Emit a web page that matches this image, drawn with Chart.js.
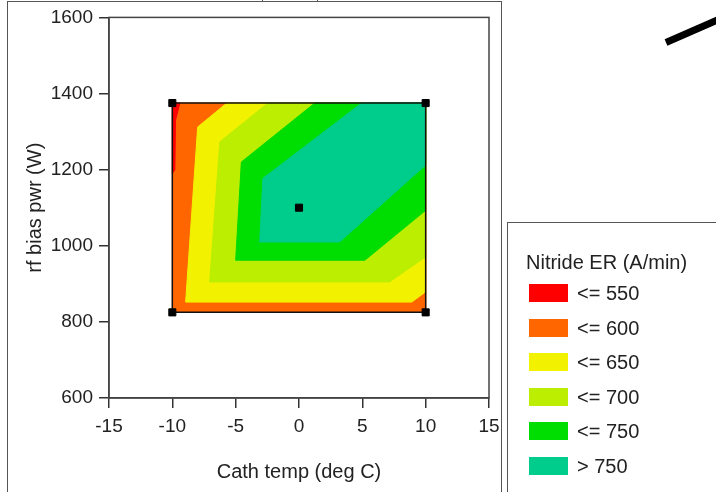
<!DOCTYPE html>
<html>
<head>
<meta charset="utf-8">
<title>Nitride ER contour</title>
<script src="https://cdn.jsdelivr.net/npm/chart.js@4.4.1/dist/chart.umd.min.js"></script>
<style>
  body { margin: 0; background: #fff; font-family: "Liberation Sans", Arial, sans-serif; color: #222; }
  #wrap { position: relative; width: 716px; height: 492px; overflow: hidden; background: #fff; }
  #erChart { position: absolute; left: 0; top: 0; }
  .frame { position: absolute; border: 1.5px solid #555; box-sizing: border-box; }
  .mark { position: absolute; top: 0; width: 1px; height: 2px; background: #555; }
  #slash { position: absolute; left: 666px; top: 39px; width: 60px; height: 7px; background: #000;
           transform-origin: 0 50%; transform: rotate(-23.6deg); }
  #legend { position: absolute; left: 507px; top: 222px; width: 230px; height: 300px;
            border: 1.5px solid #555; box-sizing: border-box; }
  #legend .title { position: absolute; left: 18px; top: 27px; font-size: 20px; line-height: 24px; white-space: nowrap; }
  #legend .rows { position: absolute; left: 21px; top: 61px; }
  .legend-row { height: 34.5px; display: flex; align-items: flex-start; }
  .swatch { width: 39px; height: 18px; margin-right: 9px; }
  .legend-row span.txt { font-size: 20px; line-height: 19px; }
</style>
</head>
<body>
<div id="wrap">
  <div class="frame" style="left:7px; top:1px; width:495px; height:520px;"></div>
  <div class="mark" style="left:262px;"></div>
  <div class="mark" style="left:317px;"></div>
  <canvas id="erChart" width="716" height="492"></canvas>
  <div id="slash"></div>
  <div id="legend">
    <div class="title">Nitride ER (A/min)</div>
    <div class="rows" id="legendRows"></div>
  </div>
</div>

<script>
// Axis ticks
const tempTicks = [-15, -10, -5, 0, 5, 10, 15];
const powerTicks = [600, 800, 1000, 1200, 1400, 1600];

// Design points (4 corners + center)
const designTemp = [-10, 10, -10, 10, 0];
const designPower = [1375, 1375, 825, 825, 1100];

// Legend levels
const levelLabels = ["<= 550", "<= 600", "<= 650", "<= 700", "<= 750", "> 750"];
const levelColors = ["#FF0000", "#FF6600", "#F2F200", "#BBEE00", "#00DD00", "#00CC8C"];

// Contour regions, [temp, power] corners
const region550 = [[-10, 1375], [-9.4, 1375], [-9.75, 1330], [-9.8, 1200], [-10, 1190]];
const region600 = [[-10, 1375], [10, 1375], [10, 825], [-10, 825]];
const region650 = [[-5.7, 1375], [-8, 1312], [-8.95, 852], [8.9, 852], [10, 879], [10, 1375]];
const region700 = [[-2.45, 1375], [-6.25, 1273], [-7.05, 905], [7.15, 905], [10, 971], [10, 1375]];
const region750 = [[1.25, 1375], [-4.55, 1220], [-5, 962], [5.2, 962], [10, 1093], [10, 1375]];
const regionTop = [[4.95, 1375], [-2.85, 1177], [-3.1, 1010], [3.2, 1010], [10, 1212], [10, 1375]];

Chart.defaults.font.family = '"Liberation Sans", Arial, sans-serif';
Chart.defaults.color = "#222";

// Filled polygon as a closed line
function regionSet(points, color, order) {
    const pts = points.map(p => ({ x: p[0], y: p[1] }));
    pts.push(pts[0]);
    return {
        data: pts,
        backgroundColor: color,
        borderColor: color,
        borderWidth: 1,
        pointRadius: 0,
        tension: 0,
        fill: "shape",
        order: order
    };
}

const tMin = Math.min(...designTemp), tMax = Math.max(...designTemp);
const pMin = Math.min(...designPower), pMax = Math.max(...designPower);
const boxPts = [[tMin, pMax], [tMax, pMax], [tMax, pMin], [tMin, pMin], [tMin, pMax]]
    .map(p => ({ x: p[0], y: p[1] }));

// Frame round the plot area
const plotFrame = {
    id: "plotFrame",
    afterDatasetsDraw(chart) {
        const { ctx, chartArea: a } = chart;
        ctx.save();
        ctx.strokeStyle = "#444";
        ctx.lineWidth = 1.5;
        ctx.strokeRect(a.left, a.top, a.width, a.height);
        ctx.restore();
    }
};

const ctx = document.getElementById("erChart").getContext("2d");

const erChart = new Chart(ctx, {
    type: "line",
    data: {
        datasets: [
            regionSet(region600, levelColors[1], 10),
            regionSet(region650, levelColors[2], 9),
            regionSet(region700, levelColors[3], 8),
            regionSet(region750, levelColors[4], 7),
            regionSet(regionTop, levelColors[5], 6),
            regionSet(region550, levelColors[0], 5),
            {
                data: boxPts,
                borderColor: "#111",
                borderWidth: 1.5,
                pointRadius: 0,
                fill: false,
                tension: 0,
                order: 2
            },
            {
                data: designTemp.map((t, i) => ({ x: t, y: designPower[i] })),
                showLine: false,
                pointStyle: "rect",
                pointRadius: 5,
                backgroundColor: "#000",
                borderColor: "#000",
                borderWidth: 1,
                order: 1
            }
        ]
    },
    options: {
        responsive: false,
        animation: false,
        layout: {
            padding: { top: 17, right: 227, left: 0, bottom: 0 }
        },
        plugins: {
            legend: { display: false },
            tooltip: { enabled: false }
        },
        scales: {
            x: {
                type: "linear",
                min: tempTicks[0],
                max: tempTicks[tempTicks.length - 1],
                afterBuildTicks: s => { s.ticks = tempTicks.map(v => ({ value: v })); },
                afterFit: s => { s.height = 94; },
                grid: { drawOnChartArea: false, drawTicks: true, tickLength: 10, color: "#333", lineWidth: 1.5 },
                border: { display: true, color: "#444", width: 1.5 },
                ticks: { font: { size: 19 }, color: "#222", padding: 7, maxRotation: 0, callback: v => String(v) },
                title: {
                    display: true,
                    text: "Cath temp (deg C)",
                    font: { size: 20 },
                    color: "#222",
                    padding: { top: 0, bottom: 8 }
                }
            },
            y: {
                type: "linear",
                min: powerTicks[0],
                max: powerTicks[powerTicks.length - 1],
                afterBuildTicks: s => { s.ticks = powerTicks.map(v => ({ value: v })); },
                afterFit: s => { s.width = 109; },
                grid: { drawOnChartArea: false, drawTicks: true, tickLength: 10, color: "#333", lineWidth: 1.5 },
                border: { display: true, color: "#444", width: 1.5 },
                ticks: { font: { size: 19 }, color: "#222", padding: 6, callback: v => String(v) },
                title: {
                    display: true,
                    text: "rf bias pwr (W)",
                    font: { size: 20 },
                    color: "#222",
                    padding: { top: 23, bottom: 0 }
                }
            }
        }
    },
    plugins: [plotFrame]
});

// Legend

const legendRows = document.getElementById("legendRows");

levelLabels.forEach((label, i) => {
    const row = document.createElement("div");
    row.className = "legend-row";

    const sw = document.createElement("span");
    sw.className = "swatch";
    sw.style.background = levelColors[i];

    const txt = document.createElement("span");
    txt.className = "txt";
    txt.textContent = label;

    row.appendChild(sw);
    row.appendChild(txt);
    legendRows.appendChild(row);
});
</script>
</body>
</html>
